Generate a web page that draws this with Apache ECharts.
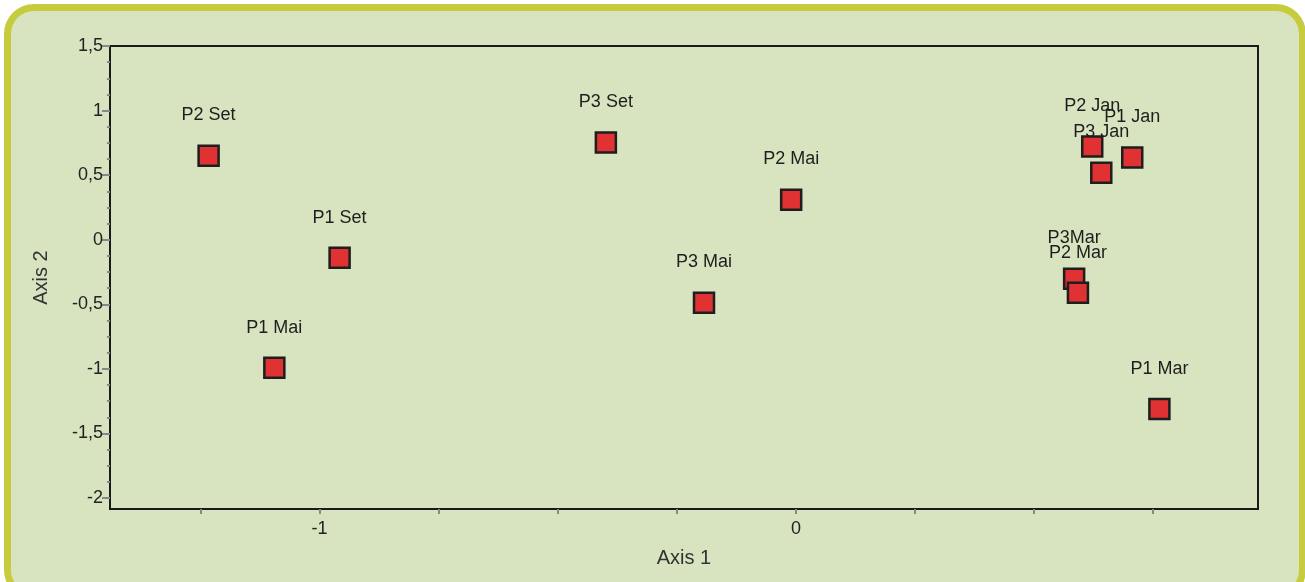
<!DOCTYPE html>
<html>
<head>
<meta charset="utf-8">
<script src="https://cdn.jsdelivr.net/npm/echarts@6/dist/echarts.min.js"></script>
<style>
html,body{margin:0;padding:0;background:#ffffff;width:1305px;height:582px;overflow:hidden;}
#frame{position:absolute;left:4px;top:4px;width:1288px;height:582px;border:7px solid #c7cc3f;border-radius:30px;background:#d8e3bf;}
#chart{position:absolute;left:0;top:0;width:1305px;height:582px;}
</style>
</head>
<body>
<div id="frame"></div>
<div id="chart"></div>
<script>
var pointNames = ['P2 Set','P1 Set','P1 Mai','P3 Set','P3 Mai','P2 Mai','P2 Jan','P3 Jan','P1 Jan','P3Mar','P2 Mar','P1 Mar'];
var axis1Values = [-1.233,-0.958,-1.095,-0.399,-0.193,-0.010,0.622,0.641,0.706,0.584,0.592,0.763];
var axis2Values = [0.651,-0.140,-0.992,0.752,-0.488,0.310,0.721,0.519,0.636,-0.302,-0.411,-1.310];
var xTickValues = [-1.25,-1,-0.75,-0.5,-0.25,0,0.25,0.5,0.75];
var xLabelValues = [-1,0];
var yLabelValues = [-2,-1.5,-1,-0.5,0,0.5,1,1.5];
var yMinorTickValues = [-1.875,-1.75,-1.625,-1.375,-1.25,-1.125,-0.875,-0.75,-0.625,-0.375,-0.25,-0.125,0.125,0.25,0.375,0.625,0.75,0.875,1.125,1.25,1.375];

var data = pointNames.map(function(n,i){return {name:n, value:[axis1Values[i], axis2Values[i]]};});
function fmt(v){return String(v).replace('.', ',');}
var font = 'Liberation Sans, Arial, sans-serif';
var chart = echarts.init(document.getElementById('chart'));
chart.setOption({
  backgroundColor:'transparent',
  animation:false,
  grid:{left:110,right:47,top:46,bottom:73,show:true,borderColor:'#1a1a1a',borderWidth:2,backgroundColor:'transparent'},
  xAxis:{type:'value',min:-1.44,max:0.97,
    name:'Axis 1',nameLocation:'middle',nameGap:39,
    nameTextStyle:{fontFamily:font,fontSize:20,color:'#333'},
    splitLine:{show:false},
    axisLine:{show:true,onZero:false,lineStyle:{color:'#1a1a1a',width:2}},
    axisTick:{show:true,length:5,customValues:xTickValues,lineStyle:{color:'#888',width:2}},
    axisLabel:{customValues:xLabelValues,formatter:fmt,fontFamily:font,fontSize:18,color:'#222',margin:11}
  },
  yAxis:[{type:'value',min:-2.085,max:1.5,
    name:'Axis 2',nameLocation:'middle',nameGap:59,nameRotate:90,
    nameTextStyle:{fontFamily:font,fontSize:20,color:'#333'},
    splitLine:{show:false},
    axisLine:{show:true,onZero:false,lineStyle:{color:'#1a1a1a',width:2}},
    axisTick:{show:true,length:8,customValues:yLabelValues,lineStyle:{color:'#888',width:2}},
    axisLabel:{customValues:yLabelValues,formatter:fmt,fontFamily:font,fontSize:18,color:'#222',margin:7}
  },{type:'value',min:-2.085,max:1.5,position:'left',
    splitLine:{show:false},
    axisLine:{show:false,onZero:false},
    axisTick:{show:true,length:3,customValues:yMinorTickValues,lineStyle:{color:'#888',width:2}},
    axisLabel:{show:false}
  }],
  series:[{type:'scatter',data:data,symbol:'rect',symbolSize:20,
    itemStyle:{color:'#e03232',borderColor:'#1e1e1e',borderWidth:2.5,opacity:1},
    label:{show:true,position:'top',distance:20,formatter:'{b}',fontFamily:font,fontSize:18,color:'#1e1e1e'}
  }]
});
</script>
</body>
</html>
